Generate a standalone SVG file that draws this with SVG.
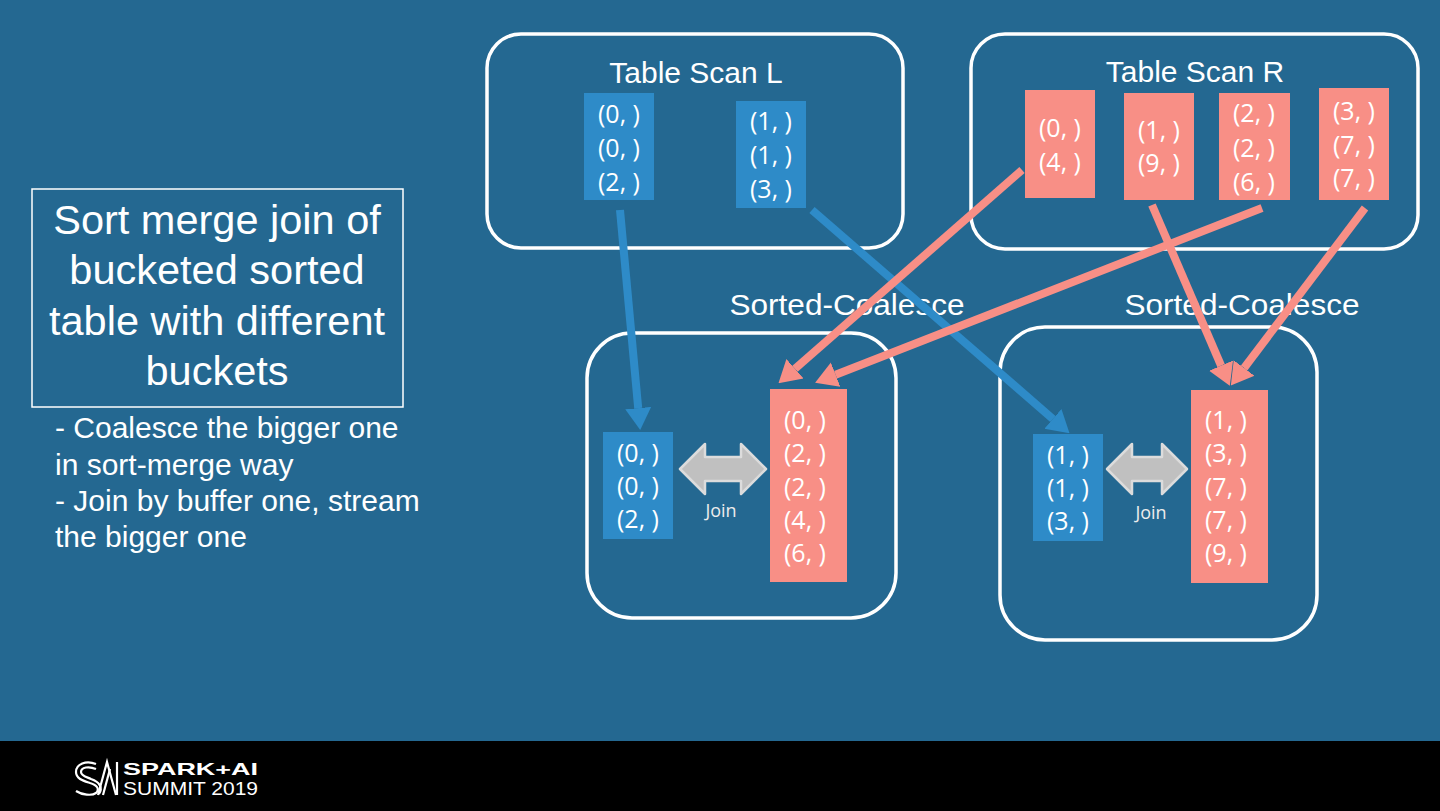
<svg xmlns="http://www.w3.org/2000/svg" width="1440" height="811" viewBox="0 0 1440 811">
<style>
.bg{fill:#246891}
.frame{fill:none;stroke:#ffffff;stroke-width:3.5}
.bbox{fill:#2e8bc8}
.rbox{fill:#f88f86}
.val{font-family:"Open Sans","Noto Sans",sans-serif;font-size:25px;fill:#ffffff;text-anchor:middle}
.ttl{font-family:"Liberation Sans",Arial,sans-serif;font-size:30px;fill:#ffffff;text-anchor:middle}
.join{font-family:"Open Sans","Noto Sans",sans-serif;font-size:18px;fill:#ececec;text-anchor:middle}
.dbl{fill:#c0c0c0;stroke:#dcdcdc;stroke-width:2.5;stroke-linejoin:round}
.lb{stroke:#2e8bc8;stroke-width:8;fill:none}
.lr{stroke:#f88f86;stroke-width:8;fill:none}
.big{font-family:"Liberation Sans",Arial,sans-serif;font-size:41.5px;fill:#ffffff;text-anchor:middle}
.bul{font-family:"Liberation Sans",Arial,sans-serif;font-size:30px;fill:#ffffff}
</style>
<defs>
<marker id="ab" viewBox="0 -14 22 28" markerWidth="22" markerHeight="28" refX="0" refY="0" orient="auto" markerUnits="userSpaceOnUse"><path d="M0,-13 L22,0 L0,13 Z" fill="#2e8bc8"/></marker>
<marker id="ar" viewBox="0 -14 22 28" markerWidth="22" markerHeight="28" refX="0" refY="0" orient="auto" markerUnits="userSpaceOnUse"><path d="M0,-13 L22,0 L0,13 Z" fill="#f88f86"/></marker>
</defs>
<rect class="bg" x="0" y="0" width="1440" height="741"/>
<rect x="0" y="741" width="1440" height="70" fill="#000000"/>

<g id="summary">
<rect x="32" y="189" width="371" height="218" fill="none" stroke="#ffffff" stroke-width="1.5"/>
<text class="big" x="217" y="234">Sort merge join of</text>
<text class="big" x="217" y="284">bucketed sorted</text>
<text class="big" x="217" y="335">table with different</text>
<text class="big" x="217" y="385">buckets</text>
<text class="bul" x="55" y="438">- Coalesce the bigger one</text>
<text class="bul" x="55" y="475">in sort-merge way</text>
<text class="bul" x="55" y="511">- Join by buffer one, stream</text>
<text class="bul" x="55" y="547">the bigger one</text>
</g>

<g id="scanL">
<rect class="frame" x="487" y="34" width="416" height="214" rx="34"/>
<text class="ttl" x="696" y="83">Table Scan L</text>
<rect class="bbox" x="584" y="93" width="70" height="107"/>
<text class="val" x="619" y="123">(0, )</text>
<text class="val" x="619" y="157">(0, )</text>
<text class="val" x="619" y="191">(2, )</text>
<rect class="bbox" x="736" y="101" width="70" height="107"/>
<text class="val" x="771" y="130">(1, )</text>
<text class="val" x="771" y="164">(1, )</text>
<text class="val" x="771" y="198">(3, )</text>
</g>

<g id="scanR">
<rect class="frame" x="971" y="34" width="447" height="215" rx="34"/>
<text class="ttl" x="1195" y="82">Table Scan R</text>
<rect class="rbox" x="1025" y="90" width="70" height="108"/>
<text class="val" x="1060" y="137">(0, )</text>
<text class="val" x="1060" y="171">(4, )</text>
<rect class="rbox" x="1124" y="93" width="70" height="107"/>
<text class="val" x="1159" y="139">(1, )</text>
<text class="val" x="1159" y="172">(9, )</text>
<rect class="rbox" x="1219" y="93" width="71" height="107"/>
<text class="val" x="1254" y="122">(2, )</text>
<text class="val" x="1254" y="157">(2, )</text>
<text class="val" x="1254" y="191">(6, )</text>
<rect class="rbox" x="1319" y="88" width="70" height="112"/>
<text class="val" x="1354" y="120">(3, )</text>
<text class="val" x="1354" y="154">(7, )</text>
<text class="val" x="1354" y="187">(7, )</text>
</g>

<g id="coalesceL">
<text class="ttl" x="847" y="315" textLength="235" lengthAdjust="spacingAndGlyphs">Sorted-Coalesce</text>
<rect class="frame" x="587" y="333" width="309" height="285" rx="45"/>
<rect class="bbox" x="603" y="432" width="70" height="107"/>
<text class="val" x="638" y="462">(0, )</text>
<text class="val" x="638" y="495">(0, )</text>
<text class="val" x="638" y="528">(2, )</text>
<path class="dbl" d="M680,469 L705,444 L705,457 L741,457 L741,444 L766,469 L741,494 L741,481 L705,481 L705,494 Z"/>
<text class="join" x="721" y="517">Join</text>
<rect class="rbox" x="770" y="389" width="77" height="193"/>
<text class="val" x="805" y="429">(0, )</text>
<text class="val" x="805" y="462">(2, )</text>
<text class="val" x="805" y="496">(2, )</text>
<text class="val" x="805" y="529">(4, )</text>
<text class="val" x="805" y="562">(6, )</text>
</g>

<g id="coalesceR">
<text class="ttl" x="1242" y="315" textLength="235" lengthAdjust="spacingAndGlyphs">Sorted-Coalesce</text>
<rect class="frame" x="1000" y="327" width="317" height="313" rx="45"/>
<rect class="bbox" x="1033" y="434" width="70" height="107"/>
<text class="val" x="1068" y="464">(1, )</text>
<text class="val" x="1068" y="497">(1, )</text>
<text class="val" x="1068" y="530">(3, )</text>
<path class="dbl" d="M1107,469 L1132,444 L1132,457 L1162,457 L1162,444 L1187,469 L1162,494 L1162,481 L1132,481 L1132,494 Z"/>
<text class="join" x="1151" y="519">Join</text>
<rect class="rbox" x="1191" y="390" width="77" height="193"/>
<text class="val" x="1226" y="429">(1, )</text>
<text class="val" x="1226" y="462">(3, )</text>
<text class="val" x="1226" y="496">(7, )</text>
<text class="val" x="1226" y="529">(7, )</text>
<text class="val" x="1226" y="562">(9, )</text>
</g>

<g id="connectors">
<line class="lb" x1="620" y1="210" x2="638.2" y2="408.1" marker-end="url(#ab)"/>
<line class="lb" x1="812" y1="210" x2="1052.9" y2="418.9" marker-end="url(#ab)"/>
<line class="lr" x1="1022" y1="170" x2="795.0" y2="368.8" marker-end="url(#ar)"/>
<line class="lr" x1="1262" y1="208" x2="835.6" y2="374.7" marker-end="url(#ar)"/>
<line class="lr" x1="1152" y1="205" x2="1221.1" y2="365.6" marker-end="url(#ar)"/>
<line class="lr" x1="1365" y1="208" x2="1244.1" y2="368.0" marker-end="url(#ar)"/>
</g>

<g id="footer-logo">
<g fill="none" stroke="#ffffff" stroke-width="2.2">
<path d="M96,764 C86,760 76,764 76,772 C76,779 84,781 90,783 C97,785 100,789 96,793 C92,796 82,795 76,791"/>
<path d="M96,769 C89,766 81,767 81,772 C81,776 87,777 91,779 C100,782 103,788 99,794"/>
<path d="M98,795 L107,762 L116,795"/>
<path d="M103,795 L110,769"/>
<path d="M117,762 L117,795"/>
</g>
<text x="123" y="775" font-family="Liberation Sans,Arial,sans-serif" font-weight="bold" font-size="17" fill="#ffffff" textLength="135" lengthAdjust="spacingAndGlyphs">SPARK+AI</text>
<text x="123" y="795" font-family="Liberation Sans,Arial,sans-serif" font-size="18" fill="#ffffff" textLength="135" lengthAdjust="spacingAndGlyphs">SUMMIT 2019</text>
</g>
</svg>
